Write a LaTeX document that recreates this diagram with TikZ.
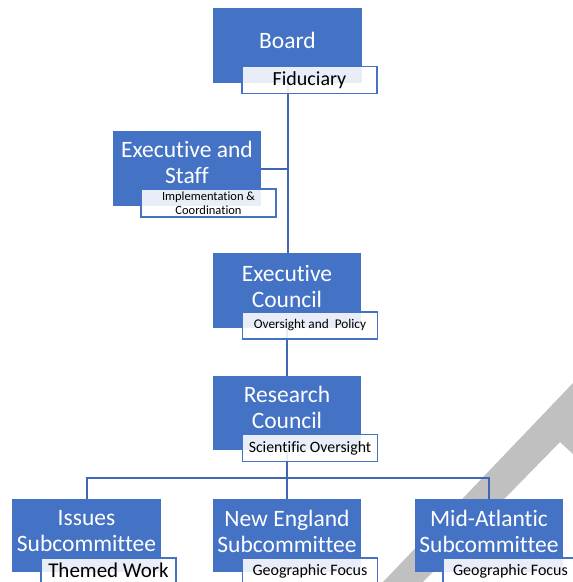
\documentclass[tikz,border=0pt]{standalone}
\usepackage{fontspec}
\setmainfont{Carlito}[Ligatures={NoCommon}]
\definecolor{boxblue}{HTML}{4472C4}
\definecolor{linkblue}{HTML}{3F67B2}
\definecolor{arrowgrey}{HTML}{C0C0C0}
\begin{document}
\begin{tikzpicture}[x=1pt,y=-1pt,
  bluebox/.style={draw=none, fill=boxblue, minimum width=148pt, minimum height=75pt, inner sep=0pt},
  subbox/.style={draw=boxblue, line width=1.8pt, fill=white, fill opacity=0.88, text opacity=1,
                 minimum width=135pt, minimum height=27pt, inner sep=0pt, text=black},
  lowsub/.style={subbox, minimum height=30pt, text depth=6pt},
  maintext/.style={text=white, align=center, font=\fontsize{23.5}{26}\selectfont, inner sep=0pt},
  conn/.style={draw=linkblue, line width=2pt}]
\useasboundingbox (0,0) rectangle (573,582);
\fill[white] (0,0) rectangle (573,582);
% background grey arrow
\fill[arrowgrey] (383,582) -- (573,383) -- (573,454) -- (560,442) -- (423,582) -- cycle;
% blue boxes
\node[bluebox] (board) at (287.5,45.5) {};
\node[bluebox] (staff) at (187,168.5) {};
\node[bluebox] (ecouncil) at (287,290.5) {};
\node[bluebox, minimum height=74pt] (research) at (287,413) {};
\node[bluebox, minimum height=73pt] (issues) at (86.5,535.5) {};
\node[bluebox, minimum height=73pt] (ne) at (287,535.5) {};
\node[bluebox, minimum height=73pt] (midatl) at (489,535.5) {};
% connectors
\coordinate (bus) at (287,478);
\draw[conn] (board.south) -- (board.south |- ecouncil.north);
\draw[conn] (staff.east) -- (staff.east -| board.south);
\draw[conn] (ecouncil.south) -- (research.north);
\draw[conn] (research.south) -- (bus);
\draw[conn] (issues.north) -- ++(0,-21) -| (midatl.north);
\draw[conn] (bus) -- (ne.north);
% redraw blue boxes above connectors
\fill[boxblue] (board.north west) rectangle (board.south east);
\fill[boxblue] (staff.north west) rectangle (staff.south east);
\fill[boxblue] (ecouncil.north west) rectangle (ecouncil.south east);
\fill[boxblue] (research.north west) rectangle (research.south east);
\fill[boxblue] (issues.north west) rectangle (issues.south east);
\fill[boxblue] (ne.north west) rectangle (ne.south east);
\fill[boxblue] (midatl.north west) rectangle (midatl.south east);
% main texts
\node[maintext] (boardt) at (287.5,40.5) {Board};
\node[maintext] (stafft) at (187,162.5) {Executive and\\Staff};
\node[maintext] (ecouncilt) at (287,286) {Executive\\Council};
\node[maintext] (researcht) at (287,407.5) {Research\\Council};
\node[maintext] (issuest) at (86.5,531) {Issues\\Subcommittee};
\node[maintext] (net) at (287,531) {New England\\Subcommittee};
\node[maintext] (midatlt) at (489,531) {Mid-Atlantic\\Subcommittee};
% sub boxes
\node[subbox, font=\fontsize{20}{22}\selectfont] (boardsub) at (309.5,80) {Fiduciary};
\node[subbox, minimum height=28pt, align=center, font=\fontsize{12.5}{14}\selectfont] (staffsub) at (208.5,203) {Implementation \&\\Coordination};
\node[subbox, font=\fontsize{13.3}{15}\selectfont] (ecouncilsub) at (310,325.5) {Oversight and\ \ Policy};
\node[subbox, font=\fontsize{15.8}{18}\selectfont] (researchsub) at (310,448) {Scientific Oversight};
\node[lowsub, font=\fontsize{21}{23}\selectfont] (issuessub) at (108.5,573) {Themed Work};
\node[lowsub, font=\fontsize{16}{18}\selectfont] (nesub) at (310,573) {Geographic Focus};
\node[lowsub, font=\fontsize{16}{18}\selectfont] (midatlsub) at (510.5,573) {Geographic Focus};
\end{tikzpicture}
\end{document}
